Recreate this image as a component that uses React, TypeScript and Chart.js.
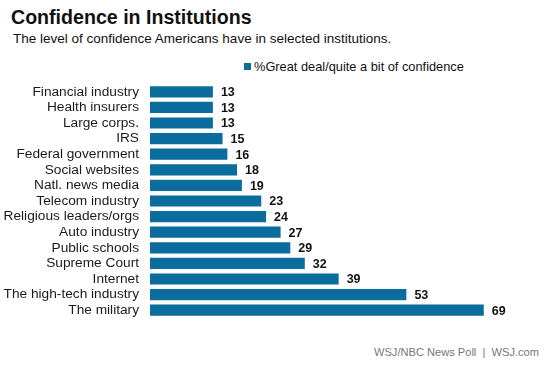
import React, { useEffect, useRef } from "react";
import { Chart, registerables } from "chart.js";

Chart.register(...registerables);

const categories = [
  "Financial industry",
  "Health insurers",
  "Large corps.",
  "IRS",
  "Federal government",
  "Social websites",
  "Natl. news media",
  "Telecom industry",
  "Religious leaders/orgs",
  "Auto industry",
  "Public schools",
  "Supreme Court",
  "Internet",
  "The high-tech industry",
  "The military",
];
const confidence = [13, 13, 13, 15, 16, 18, 19, 23, 24, 27, 29, 32, 39, 53, 69];
const seriesName = "%Great deal/quite a bit of confidence";
const titleText = "Confidence in Institutions";
const subtitleText = "The level of confidence Americans have in selected institutions.";
const sourceText = "WSJ/NBC News Poll  |  WSJ.com";

const BAR_COLOR = "#0a6d9d";
const FONT = "'Liberation Sans', Arial, sans-serif";

const valueLabels = {
  id: "valueLabels",
  afterDatasetsDraw(chart: any) {
    const ctx = chart.ctx;
    const meta = chart.getDatasetMeta(0);
    ctx.save();
    ctx.font = `bold 12.5px ${FONT}`;
    ctx.fillStyle = "#111";
    ctx.textAlign = "left";
    ctx.textBaseline = "middle";
    meta.data.forEach((bar: any, i: number) => {
      ctx.fillText(String(confidence[i]), bar.x + 8, bar.y + 1);
    });
    ctx.restore();
  },
};

export default function App() {
  const ref = useRef<HTMLCanvasElement | null>(null);
  useEffect(() => {
    if (!ref.current) return;
    const chart = new Chart(ref.current, {
      type: "bar",
      data: {
        labels: categories,
        datasets: [
          {
            label: seriesName,
            data: confidence,
            backgroundColor: BAR_COLOR,
            categoryPercentage: 1,
            barPercentage: 0.72,
          },
        ],
      },
      options: {
        indexAxis: "y",
        animation: false,
        responsive: false,
        maintainAspectRatio: false,
        layout: { padding: { left: 0, right: 16, top: 0, bottom: 0 } },
        plugins: {
          legend: { display: false },
          tooltip: { enabled: false },
          title: { display: false },
        },
        scales: {
          x: { display: false, min: 0, max: 80 },
          y: {
            grid: { display: false, drawTicks: false },
            border: { display: false },
            ticks: {
              color: "#1a1a1a",
              font: { family: FONT, size: 13.7 },
              padding: 11,
              autoSkip: false,
            },
            afterFit(scale: any) {
              scale.width = 150;
              scale.paddingTop = 0;
              scale.paddingBottom = 0;
            },
          },
        },
      },
      plugins: [valueLabels],
    });
    return () => chart.destroy();
  }, []);

  return (
    <div
      style={{
        position: "absolute",
        left: 0,
        top: 0,
        width: 553,
        height: 369,
        background: "#fff",
        fontFamily: FONT,
        overflow: "hidden",
      }}
    >
      <div style={{ position: "absolute", left: 11, top: 6, fontSize: 19.6, fontWeight: "bold", color: "#111", whiteSpace: "nowrap" }}>
        {titleText}
      </div>
      <div style={{ position: "absolute", left: 13, top: 31, fontSize: 13.5, color: "#111", whiteSpace: "nowrap" }}>
        {subtitleText}
      </div>
      <div style={{ position: "absolute", left: 244, top: 59, fontSize: 12.8, color: "#111", whiteSpace: "nowrap", display: "flex", alignItems: "center" }}>
        <span style={{ display: "inline-block", width: 7, height: 7, background: BAR_COLOR, marginRight: 3 }} />
        <span>{seriesName}</span>
      </div>
      <canvas ref={ref} width={553} height={234} style={{ position: "absolute", left: 0, top: 84, width: 553, height: 234 }} />
      <div style={{ position: "absolute", right: 14, top: 346, fontSize: 11.1, color: "#777", whiteSpace: "pre" }}>
        {sourceText}
      </div>
    </div>
  );
}
